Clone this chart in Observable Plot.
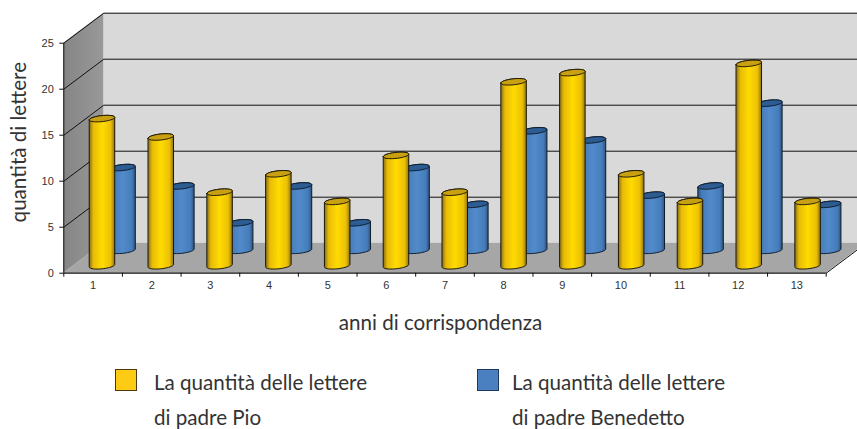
<!DOCTYPE html>
<html><head><meta charset="utf-8">
<script src="https://cdn.jsdelivr.net/npm/d3@7"></script>
<script src="https://cdn.jsdelivr.net/npm/@observablehq/plot@0.6"></script>
<style>
html,body{margin:0;padding:0;background:#fff;overflow:hidden;width:857px;height:429px}
#chart{position:absolute;left:0;top:0}
.lg{position:absolute;font:20.6px/35px Lato,sans-serif;color:#333;white-space:nowrap}
.sw{position:absolute;width:20px;height:20px;border:1px solid #4a3a10;box-sizing:content-box}
</style></head><body>
<div id="chart"></div>
<div class="sw" style="left:115px;top:369px;background:#fdca14"></div>
<div class="lg" style="left:154px;top:365px">La quantità delle lettere<br>di padre Pio</div>
<div class="sw" style="left:477px;top:369px;background:#4a80c0;border-color:#1c3a5c"></div>
<div class="lg" style="left:512px;top:365px">La quantità delle lettere<br>di padre Benedetto</div>
<script>
const years = ["1","2","3","4","5","6","7","8","9","10","11","12","13"];
const pio = [16,14,8,10,7,12,8,20,21,10,7,22,7];
const benedetto = [9,7,3,7,3,9,5,13,12,6,7,16,5];
const yTicks = [0,5,10,15,20,25];

const W=857,H=345,L=63.3,R=31.3,T=42.7,B=H-272.7;
const ux=(W-L-R)/13, uy=(H-T-B)/25;      // px per data unit
const DX=40/ux, DY=30/uy;                // full floor depth in data units
const wall=[{x:0,y1:0,y2:25},{x:DX,y1:DY,y2:25+DY}];
const back=[{x:DX,y1:DY,y2:25+DY},{x:13+DX,y1:DY,y2:25+DY}];
const floor=[{y:0,x1:0,x2:13},{y:DY,x1:DX,x2:13+DX}];
const grid=yTicks.slice(1).flatMap(v=>[{v,x:0,y:v},{v,x:DX,y:v+DY},{v,x:13+DX,y:v+DY}]);
const edge=[{x:13,y:0},{x:13+DX,y:DY}];

// Cylinder silhouettes in data coordinates
const a=12.7/ux,b=3/uy,k=1.3/uy,step=58.8/ux,off=.2/ux;
const ts=d3.range(25).map(i=>-Math.cos(Math.PI*i/24));
function cyl(vals,z){
  const body=[],cap=[];
  vals.forEach((v,i)=>{
    const cx=i*step+.5+off+z*DX, by=z*DY, ty=by+v;
    ts.forEach(t=>{
      const s=Math.sqrt(Math.max(0,1-t*t))*b, tilt=t*k, x=cx+t*a;
      body.push({id:i,x,y1:by+tilt-s,y2:ty+tilt+s});
      cap.push({id:i,x,y1:ty+tilt-s,y2:ty+tilt+s});
    });
  });
  return {body,cap};
}
const blue=cyl(benedetto,.745), yellow=cyl(pio,.23);

const defs=()=>{
  const g=document.createElementNS("http://www.w3.org/2000/svg","defs");
  g.innerHTML=`
  <linearGradient id="gy" x1="0" x2="1" y1="0" y2="0">
    <stop offset="0" stop-color="#8a6f14"/><stop offset=".16" stop-color="#e8bb08"/>
    <stop offset=".5" stop-color="#ffdb00"/><stop offset=".84" stop-color="#ecc006"/>
    <stop offset="1" stop-color="#8f7412"/></linearGradient>
  <linearGradient id="gb" x1="0" x2="1" y1="0" y2="0">
    <stop offset="0" stop-color="#2e5583"/><stop offset=".16" stop-color="#457cb9"/>
    <stop offset=".5" stop-color="#538acb"/><stop offset=".86" stop-color="#457cb9"/>
    <stop offset="1" stop-color="#2d5480"/></linearGradient>
  <linearGradient id="gw" x1="0" x2="1" y1="0" y2="0">
    <stop offset="0" stop-color="#858585"/><stop offset="1" stop-color="#999"/></linearGradient>`;
  return g;
};

const chart=Plot.plot({
  width:W,height:H,marginLeft:L,marginRight:R,marginTop:T,marginBottom:B,
  style:{background:"transparent",overflow:"hidden"},
  x:{domain:[0,13]},y:{domain:[0,25]},
  marks:[
    defs,
    Plot.areaY(back,{x:"x",y1:"y1",y2:"y2",fill:"#d9d9d9"}),
    Plot.areaX(floor,{y:"y",x1:"x1",x2:"x2",fill:"#a6a6a6"}),
    Plot.areaY(wall,{x:"x",y1:"y1",y2:"y2",fill:"url(#gw)"}),
    Plot.line(grid,{x:"x",y:"y",z:"v",stroke:"#111",strokeWidth:1}),
    Plot.line(edge,{x:"x",y:"y",stroke:"#111",strokeWidth:1}),
    Plot.areaY(blue.body,{x:"x",y1:"y1",y2:"y2",z:"id",fill:"url(#gb)",stroke:"#0e1c2c",strokeWidth:1}),
    Plot.areaY(blue.cap,{x:"x",y1:"y1",y2:"y2",z:"id",fill:"#2c5c92",stroke:"#0e1c2c",strokeWidth:1}),
    Plot.areaY(yellow.body,{x:"x",y1:"y1",y2:"y2",z:"id",fill:"url(#gy)",stroke:"#1c1804",strokeWidth:1}),
    Plot.areaY(yellow.cap,{x:"x",y1:"y1",y2:"y2",z:"id",fill:"#c9a012",stroke:"#1c1804",strokeWidth:1}),
    Plot.ruleY([0],{stroke:"#111",strokeWidth:1.2}),
    Plot.ruleX([0],{stroke:"#111",strokeWidth:1}),
    Plot.axisY({ticks:yTicks,tickSize:4,tickPadding:6,label:null,stroke:"#111",
      fontSize:11,fontFamily:"Liberation Sans",fill:"#333"}),
    Plot.axisX({ticks:d3.range(14),tickSize:4,tickFormat:()=>"",label:null,stroke:"#111"}),
    Plot.axisX({ticks:years.map((d,i)=>i+.5),tickSize:0,tickPadding:8,label:null,
      tickFormat:d=>years[d-.5],fontSize:11,fontFamily:"Liberation Sans",fill:"#333"}),
    Plot.text(["quantità di lettere"],{frameAnchor:"left",textAnchor:"middle",rotate:-90,dx:-44,dy:-16,
      fontSize:20.6,fontFamily:"Lato",fill:"#333"}),
    Plot.text(["anni di corrispondenza"],{frameAnchor:"bottom",dy:57,dx:-4.5,
      fontSize:20.6,fontFamily:"Lato",fill:"#333"})
  ]
});
document.getElementById("chart").appendChild(chart);
</script>
</body></html>
